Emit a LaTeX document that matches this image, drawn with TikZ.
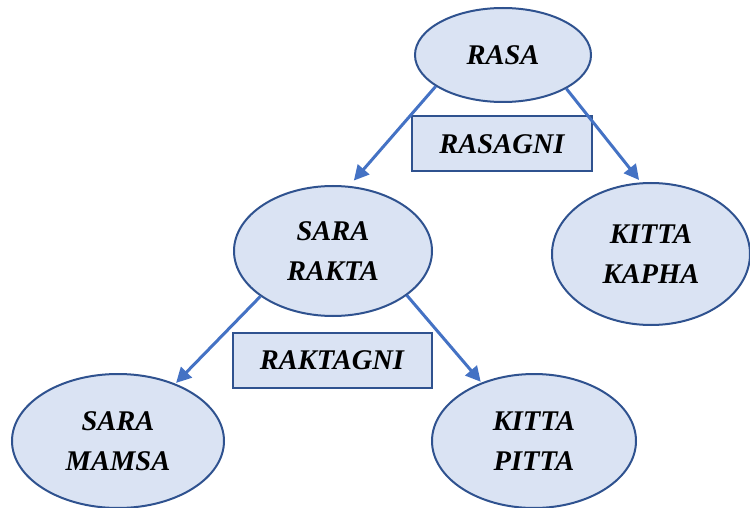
\documentclass[tikz,border=0pt]{standalone}
\usepackage{fontspec}
\setmainfont{Liberation Serif}
\usetikzlibrary{shapes.geometric,arrows.meta}
\definecolor{fillblue}{RGB}{218,227,243}
\definecolor{edgeblue}{RGB}{47,82,143}
\definecolor{arrowblue}{RGB}{68,114,196}
\begin{document}
\begin{tikzpicture}[x=1pt,y=-1pt,
  lbl/.style={font=\fontsize{28.5}{40}\selectfont\bfseries\itshape, align=center},
  ell/.style={ellipse, draw=edgeblue, fill=fillblue, line width=2pt, inner sep=0pt, lbl},
  box/.style={rectangle, draw=edgeblue, fill=fillblue, line width=2pt, inner sep=0pt, lbl},
  arr/.style={draw=arrowblue, line width=3pt, -{Triangle[length=15pt,width=15pt]}}]
\useasboundingbox (0,0) rectangle (750,508);
\node[ell, minimum width=176pt, minimum height=94pt] (rasa) at (503,55) {RASA};
\node[box, minimum width=180pt, minimum height=55pt] (rasagni) at (502,144) {RASAGNI};
\node[ell, minimum width=198pt, minimum height=130pt] (rakta) at (333,251) {SARA\\RAKTA};
\node[ell, minimum width=198pt, minimum height=142pt] (kapha) at (651,254) {KITTA\\KAPHA};
\node[box, minimum width=199pt, minimum height=55pt] (raktagni) at (332,360) {RAKTAGNI};
\node[ell, minimum width=212pt, minimum height=134pt] (mamsa) at (118,441) {SARA\\MAMSA};
\node[ell, minimum width=204pt, minimum height=134pt] (pitta) at (534,441) {KITTA\\PITTA};
\draw[arr, shorten >=7pt] (rasa.205) -- (rakta.76);
\draw[arr, shorten >=3pt] (rasa.332) -- (kapha.98);
\draw[arr, shorten >=1pt] (rakta.212) -- (mamsa.45);
\draw[arr, shorten >=1pt] (rakta.329) -- (pitta.132);
\end{tikzpicture}
\end{document}
